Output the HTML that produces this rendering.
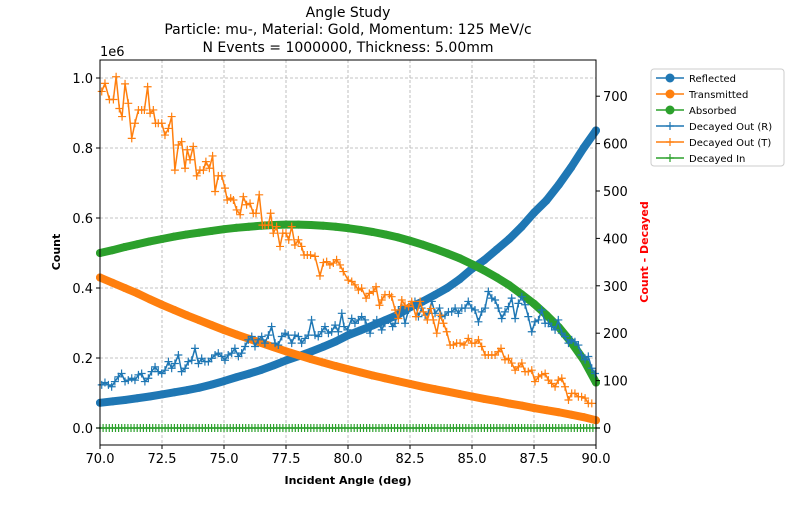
<!DOCTYPE html>
<html><head><meta charset="utf-8"><style>
body{margin:0;background:#fff;font-family:"Liberation Sans","DejaVu Sans",sans-serif}
svg text{font-family:"DejaVu Sans","Liberation Sans",sans-serif}
</style></head><body>
<svg id="chart" width="800" height="500" xmlns="http://www.w3.org/2000/svg">
<rect width="800" height="500" fill="#fff"/>
<g id="grid"></g>
<g id="series"></g>
<g id="axes"></g>
<text x="348" y="17" text-anchor="middle" font-size="14">Angle Study</text>
<text x="348" y="34" text-anchor="middle" font-size="14">Particle: mu-, Material: Gold, Momentum: 125 MeV/c</text>
<text x="348" y="52" text-anchor="middle" font-size="14">N Events = 1000000, Thickness: 5.00mm</text>
<text x="348" y="484" text-anchor="middle" font-size="11" font-weight="bold">Incident Angle (deg)</text>
<text transform="translate(60,252) rotate(-90)" text-anchor="middle" font-size="11" font-weight="bold">Count</text>
<text transform="translate(648,252) rotate(-90)" text-anchor="middle" font-size="11" font-weight="bold" fill="red">Count - Decayed</text>
<text x="100" y="56" font-size="13">1e6</text>
<g id="legend"></g>
</svg>
<script>
const smoothAngles=[70,70.5,71,71.5,72,72.5,73,73.5,74,74.5,75,75.5,76,76.5,77,77.5,78,78.5,79,79.5,80,80.5,81,81.5,82,82.5,83,83.5,84,84.5,85,85.5,86,86.5,87,87.5,88,88.5,89,89.5,90];
const reflected=[.072,.076,.080,.085,.090,.096,.102,.108,.115,.124,.134,.145,.155,.166,.179,.193,.205,.218,.232,.247,.265,.279,.293,.308,.323,.345,.361,.38,.40,.425,.455,.48,.51,.54,.575,.615,.65,.695,.745,.80,.85];
const transmitted=[.43,.415,.40,.385,.368,.352,.337,.322,.308,.294,.28,.267,.255,.243,.231,.219,.208,.197,.187,.177,.168,.159,.150,.142,.134,.126,.118,.111,.104,.097,.09,.083,.077,.07,.064,.057,.051,.045,.038,.031,.022];
const absorbed=[.50,.508,.517,.525,.533,.540,.547,.553,.558,.563,.568,.572,.575,.578,.580,.581,.581,.580,.578,.575,.571,.566,.56,.553,.545,.535,.524,.512,.499,.485,.468,.45,.43,.408,.382,.355,.323,.288,.245,.195,.13];
const decRAngles=[70.07,70.20,70.34,70.47,70.60,70.74,70.87,71.01,71.14,71.28,71.41,71.55,71.68,71.81,71.95,72.08,72.22,72.35,72.49,72.62,72.76,72.89,73.02,73.16,73.29,73.43,73.56,73.70,73.83,73.97,74.10,74.23,74.37,74.50,74.64,74.77,74.91,75.04,75.17,75.31,75.44,75.58,75.71,75.85,75.98,76.12,76.25,76.38,76.52,76.65,76.79,76.92,77.06,77.19,77.33,77.46,77.59,77.73,77.86,78.00,78.13,78.27,78.40,78.53,78.67,78.80,78.94,79.07,79.21,79.34,79.48,79.61,79.75,79.84,79.98,80.15,80.28,80.42,80.55,80.69,80.89,81.02,81.16,81.36,81.49,81.63,81.80,81.90,82.03,82.17,82.30,82.44,82.57,82.70,82.84,82.97,83.11,83.24,83.38,83.51,83.69,83.78,83.91,84.05,84.18,84.32,84.45,84.59,84.72,84.85,84.99,85.12,85.26,85.39,85.53,85.66,85.80,85.93,86.06,86.20,86.33,86.47,86.60,86.74,86.87,87.01,87.14,87.27,87.41,87.54,87.68,87.81,87.95,88.08,88.21,88.35,88.48,88.62,88.75,88.89,89.02,89.15,89.29,89.42,89.56,89.69,89.83,89.96];
const decRValues=[91,96,91,87,98,108,115,98,101,105,101,112,115,98,105,119,129,119,115,122,140,126,136,154,119,126,140,143,168,136,147,140,140,147,154,158,151,143,154,158,168,151,158,172,186,193,172,186,193,179,196,214,179,175,193,200,196,179,196,193,179,189,196,228,196,193,203,214,200,203,217,203,242,214,207,231,221,228,235,228,200,221,228,207,221,228,214,221,249,256,221,249,256,267,235,253,238,242,267,242,253,235,238,245,245,253,242,253,253,267,253,249,224,245,253,288,274,270,253,231,245,256,274,231,263,277,260,235,203,224,228,249,221,221,214,207,228,200,193,179,186,182,175,154,144,151,126,115];
const decTAngles=[70.07,70.20,70.38,70.54,70.65,70.78,70.89,71.01,71.14,71.28,71.41,71.55,71.68,71.79,71.92,72.02,72.15,72.24,72.35,72.49,72.62,72.76,72.89,73.02,73.16,73.29,73.43,73.52,73.63,73.76,73.90,74.03,74.17,74.27,74.41,74.54,74.64,74.77,74.91,75.04,75.13,75.27,75.38,75.51,75.65,75.78,75.91,76.05,76.18,76.29,76.42,76.55,76.65,76.79,76.88,76.99,77.12,77.26,77.37,77.50,77.61,77.73,77.86,78.00,78.13,78.23,78.36,78.49,78.67,78.87,79.01,79.14,79.27,79.41,79.54,79.68,79.81,80.01,80.15,80.28,80.42,80.55,80.73,80.86,81.02,81.13,81.27,81.36,81.49,81.67,81.76,81.90,82.03,82.17,82.30,82.44,82.57,82.74,82.91,83.04,83.20,83.34,83.44,83.58,83.71,83.85,83.98,84.12,84.25,84.38,84.52,84.68,84.85,84.99,85.12,85.26,85.39,85.53,85.66,85.80,85.93,86.06,86.17,86.33,86.47,86.60,86.74,86.87,87.01,87.14,87.27,87.41,87.54,87.68,87.81,87.95,88.08,88.21,88.35,88.48,88.62,88.75,88.89,89.02,89.15,89.29,89.42,89.56,89.69,89.83];
const decTValues=[710,727,693,693,741,674,657,726,685,611,643,671,671,671,720,664,671,643,643,643,618,632,657,544,597,604,548,587,566,594,532,544,544,562,548,574,499,532,532,506,481,485,481,460,450,488,471,474,453,453,492,428,428,428,453,411,425,383,411,411,397,425,386,397,383,365,365,365,362,321,349,351,344,348,355,344,330,312,309,302,291,295,274,284,288,298,259,270,281,281,277,249,231,270,259,256,267,235,267,245,228,252,228,200,238,221,203,175,175,179,179,175,189,179,179,186,172,154,154,154,154,161,168,144,147,137,122,129,137,119,119,122,98,108,112,115,101,94,87,101,105,87,59,73,73,66,66,63,52,52];
const decInValues=[0,0,0,0,0,0,0,0,0,0,0,0,0,0,0,0,0,0,0,0,0,0,0,0,0,0,0,0,0,0,0,0,0,0,0,0,0,0,0,0,0];
const xTicks=[70,72.5,75,77.5,80,82.5,85,87.5,90];
const xTickLabels=["70.0","72.5","75.0","77.5","80.0","82.5","85.0","87.5","90.0"];
const yTicks=[0,0.2,0.4,0.6,0.8,1.0];
const yTickLabels=["0.0","0.2","0.4","0.6","0.8","1.0"];
const y2Ticks=[0,100,200,300,400,500,600,700];
const legendLabels=["Reflected","Transmitted","Absorbed","Decayed Out (R)","Decayed Out (T)","Decayed In"];

const NS="http://www.w3.org/2000/svg";
const L=100,R=596,T=60,B=445;
const xS=a=>L+(a-70)/20*(R-L);
const yS=v=>428-v*350;
const y2S=v=>428-v*0.474;
const C1="#1f77b4",C2="#ff7f0e",C3="#2ca02c";
function mk(tag,attrs,parent){const e=document.createElementNS(NS,tag);for(const k in attrs)e.setAttribute(k,attrs[k]);parent.appendChild(e);return e;}
const grid=document.getElementById('grid'),ser=document.getElementById('series'),ax=document.getElementById('axes'),leg=document.getElementById('legend');
xTicks.forEach((t,i)=>{
 const g=mk('line',{x1:xS(t),x2:xS(t),y1:T,y2:B,stroke:'#b0b0b0','stroke-width':0.8,'stroke-dasharray':'3,2'},grid);
 
 
 mk('line',{x1:xS(t),x2:xS(t),y1:B,y2:B+4,stroke:'#000'},ax);
 const tx=mk('text',{x:xS(t),y:B+18,'text-anchor':'middle','font-size':13},ax);tx.textContent=xTickLabels[i];
 
 
});
yTicks.forEach((t,i)=>{
 const g=mk('line',{x1:L,x2:R,y1:yS(t),y2:yS(t),stroke:'#b0b0b0','stroke-width':0.8,'stroke-dasharray':'3,2'},grid);
 
 
 mk('line',{x1:L-4,x2:L,y1:yS(t),y2:yS(t),stroke:'#000'},ax);
 const tx=mk('text',{x:L-7,y:yS(t)+5,'text-anchor':'end','font-size':13},ax);tx.textContent=yTickLabels[i];
 
 
});
y2Ticks.forEach(t=>{
 mk('line',{x1:R,x2:R+4,y1:y2S(t),y2:y2S(t),stroke:'#000'},ax);
 const tx=mk('text',{x:R+7,y:y2S(t)+5,'font-size':13},ax);tx.textContent=String(t);
 
 
});
mk('rect',{x:L,y:T,width:R-L,height:B-T,fill:'none',stroke:'#000','stroke-width':1},ax);

function smooth(vals,color,name){
 const g=mk('g',{},ser);
 
 
 const pts=smoothAngles.map((a,i)=>xS(a)+','+yS(vals[i])).join(' ');
 mk('polyline',{points:pts,fill:'none',stroke:color,'stroke-width':8,'stroke-linejoin':'round','stroke-linecap':'round'},g);
 smoothAngles.forEach((a,i)=>{const c=mk('circle',{cx:xS(a),cy:yS(vals[i]),r:4,fill:color},g);
  
  });
}
function plus(angles,vals,color,name,scale){
 const g=mk('g',{},ser);
 
 
 mk('polyline',{points:angles.map((a,i)=>xS(a)+','+scale(vals[i])).join(' '),fill:'none',stroke:color,'stroke-width':1.5},g);
 angles.forEach((a,i)=>{const x=xS(a),y=scale(vals[i]);
  const p=mk('path',{d:`M${x-4},${y}H${x+4}M${x},${y-4}V${y+4}`,stroke:color,'stroke-width':1.2},g);
  
  });
}
smooth(reflected,C1,'reflected-series');
smooth(transmitted,C2,'transmitted-series');
smooth(absorbed,C3,'absorbed-series');
plus(decRAngles,decRValues,C1,'decayed-out-r-series',y2S);
plus(decTAngles,decTValues,C2,'decayed-out-t-series',y2S);
plus(smoothAngles.flatMap((a,i)=>i<40?[a,a+0.125,a+0.25,a+0.375]:[a]),smoothAngles.flatMap((a,i)=>i<40?[decInValues[i],decInValues[i],decInValues[i],decInValues[i]]:[decInValues[i]]),C3,'decayed-in-series',y2S);

mk('rect',{x:651,y:69,width:133,height:97,rx:3,fill:'#fff',stroke:'#ccc'},leg);
const cols=[C1,C2,C3,C1,C2,C3];
legendLabels.forEach((lab,i)=>{
 const y=78+i*16;
 const e=mk('g',{},leg);
 
 
 mk('line',{x1:656,x2:684,y1:y,y2:y,stroke:cols[i],'stroke-width':1.5},e);
 if(i<3)mk('circle',{cx:670,cy:y,r:4.5,fill:cols[i]},e);
 else mk('path',{d:`M666,${y}H674M670,${y-4}V${y+4}`,stroke:cols[i],'stroke-width':1.2},e);
 const t=mk('text',{x:689,y:y+4,'font-size':10},e);t.textContent=lab;
});
</script>
</body></html>
